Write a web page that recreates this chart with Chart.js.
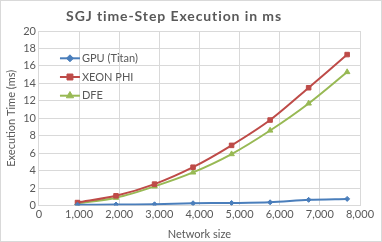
<!DOCTYPE html>
<html>
<head>
<meta charset="utf-8">
<script src="https://cdn.jsdelivr.net/npm/chart.js@4"></script>
<style>
  html, body { margin: 0; padding: 0; background: #fff; }
  #box { width: 382px; height: 242px; box-sizing: border-box; border: 1px solid #d9d9d9; }
</style>
</head>
<body>
<div id="box"><canvas id="sgjChart" width="380" height="240"></canvas></div>
<script>
// ====== DATA ======
const networkSizes = [960, 1920, 2880, 3840, 4800, 5760, 6720, 7680];
const gpuTimes  = [0.1, 0.12, 0.15, 0.27, 0.3, 0.38, 0.66, 0.77];
const xeonTimes = [0.35, 1.12, 2.46, 4.4, 6.9, 9.8, 13.5, 17.3];
const dfeTimes  = [0.25, 0.9, 2.2, 3.8, 5.9, 8.6, 11.7, 15.3];
const seriesNames = ['GPU (Titan)', 'XEON PHI', 'DFE'];
const chartTitle = 'SGJ time-Step Execution in ms';

const toPoints = (vals) => vals.map((v, i) => ({ x: networkSizes[i], y: v }));
const grey = '#595959';
const font = 'Lato, "Liberation Sans", sans-serif';

// title (a bit left of centre, spaced letters) + legend inside the plot area
const overlay = {
  id: 'overlay',
  afterDraw(chart) {
    const ctx = chart.ctx;
    const area = chart.chartArea;

    ctx.save();
    ctx.fillStyle = grey;
    ctx.font = 'bold 14px ' + font;
    ctx.letterSpacing = '0.9px';
    ctx.textAlign = 'center';
    ctx.textBaseline = 'middle';
    ctx.fillText(chartTitle, 173, 15);
    ctx.restore();

    chart.data.datasets.forEach((ds, i) => {
      const y = area.top + 27.3 + i * 18.7;
      const x0 = area.left + 21;
      ctx.save();
      ctx.strokeStyle = ds.borderColor;
      ctx.lineWidth = 2;
      ctx.beginPath();
      ctx.moveTo(x0, y);
      ctx.lineTo(x0 + 20, y);
      ctx.stroke();
      ctx.fillStyle = ds.borderColor;
      ctx.lineWidth = 1;
      Chart.helpers.drawPoint(ctx, {
        pointStyle: ds.pointStyle,
        radius: ds.pointRadius + 1,
        rotation: 0,
        borderWidth: 1
      }, x0 + 10, y);
      ctx.fillStyle = grey;
      ctx.font = '11px ' + font;
      ctx.textBaseline = 'middle';
      ctx.fillText(ds.label, x0 + 22, y);
      ctx.restore();
    });
  }
};

document.addEventListener('DOMContentLoaded', () => {
  const ctx = document.getElementById('sgjChart').getContext('2d');
  new Chart(ctx, {
    type: 'scatter',
    data: {
      datasets: [
        { label: seriesNames[0], data: toPoints(gpuTimes), borderColor: '#4a7ebb', pointStyle: 'rectRot', pointRadius: 2.5 },
        { label: seriesNames[1], data: toPoints(xeonTimes), borderColor: '#be4b48', pointStyle: 'rect', pointRadius: 3.2 },
        { label: seriesNames[2], data: toPoints(dfeTimes), borderColor: '#98b954', pointStyle: 'triangle', pointRadius: 3.2 }
      ].map(d => Object.assign(d, {
        showLine: true, borderWidth: 2, tension: 0.3,
        backgroundColor: d.borderColor, pointBackgroundColor: d.borderColor,
        pointBorderColor: d.borderColor, pointBorderWidth: 1
      }))
    },
    options: {
      responsive: false,
      animation: false,
      layout: { padding: { left: 0, right: 21, top: 30, bottom: 0 } },
      plugins: {
        legend: { display: false },
        tooltip: { enabled: false },
        title: { display: false }
      },
      scales: {
        x: {
          type: 'linear', min: 0, max: 8000,
          ticks: { stepSize: 1000, color: grey, font: { family: font, size: 11 }, padding: 2 },
          grid: { color: '#d9d9d9', drawTicks: false },
          border: { color: '#d9d9d9' },
          title: { display: true, text: 'Network size', color: grey, font: { family: font, size: 11 }, padding: { top: 5, bottom: 0 } }
        },
        y: {
          min: 0, max: 20,
          ticks: { stepSize: 2, color: grey, font: { family: font, size: 11 }, padding: 3 },
          grid: { color: '#d9d9d9', drawTicks: false },
          border: { display: false },
          title: { display: true, text: 'Execution Time (ms)', color: grey, font: { family: font, size: 11 }, padding: { bottom: 2 } }
        }
      }
    },
    plugins: [overlay]
  });
});
</script>
</body>
</html>
